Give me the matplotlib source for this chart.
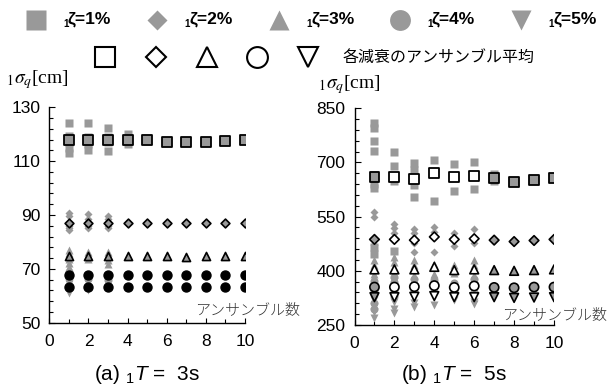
import matplotlib
matplotlib.use("Agg")
import numpy as np
import matplotlib.pyplot as plt

plt.rcParams['font.family'] = ['Liberation Sans', 'Noto Sans CJK JP']
plt.rcParams['mathtext.fontset'] = 'custom'
plt.rcParams['mathtext.rm'] = 'Liberation Sans'
plt.rcParams['mathtext.it'] = 'Liberation Sans:italic'

W, H = 608, 389
GREY = '#999999'

# ensemble count on the x axis
ens = [1, 2, 3, 4, 5, 6, 7, 8, 9, 10]

# (a) 1T = 3s : individual values (grey) and ensemble averages
a_z1_x = [1, 1, 1, 1, 1, 2, 2, 2, 2, 3, 3, 3, 3, 4, 4, 4, 5, 5]
a_z1_y = [124.3, 119.5, 117, 115, 113, 124.2, 119, 116.5, 114, 122.3, 119, 117, 113.8, 120, 118, 116.3, 118.5, 117.3]
a_z1_avg = [118, 118, 118, 118, 118, 117.2, 117, 117.2, 117.6, 118]
a_z2_x = [1, 1, 1, 1, 1, 2, 2, 2, 2, 3, 3, 3, 3]
a_z2_y = [90.8, 89.5, 86, 85, 84.3, 90.2, 88.5, 86, 85, 89.6, 88.5, 86, 85]
a_z2_avg = [87.2, 87.2, 87.2, 87.2, 87.2, 87.0, 87.0, 87.0, 87.1, 87.2]
a_z3_x = [1, 1, 1, 1, 1, 2, 2, 3, 3, 3]
a_z3_y = [77, 75.8, 73.5, 72, 70.8, 76.2, 73.5, 76.3, 73.3, 71.8]
a_z3_avg = [74.8, 74.8, 74.8, 74.8, 74.8, 74.6, 74.5, 74.6, 74.8, 74.8]
a_z4_x = [1, 1, 2, 3]
a_z4_y = [68.8, 66.5, 66.3, 66]
a_z4_avg = [67.7, 67.7, 67.7, 67.7, 67.7, 67.7, 67.7, 67.7, 67.7, 67.7]
a_z5_x = [1, 1, 2]
a_z5_y = [64.2, 61, 62.3]
a_z5_avg = [63.3, 63.3, 63.3, 63.3, 63.3, 63.3, 63.3, 63.3, 63.3, 63.3]

# (b) 1T = 5s
b_z1_x = [1, 1, 1, 1, 1, 1, 1, 1, 1, 2, 2, 2, 2, 3, 3, 3, 3, 4, 4, 5, 5, 6, 6, 7, 7]
b_z1_y = [808, 795, 760, 732, 665, 640, 628, 466, 447, 730, 690, 650, 456,
          698, 680, 638, 605, 707, 594, 697, 622, 702, 626, 668, 650]
b_z1_avg = [659, 659, 654, 670, 659, 663, 658, 645, 651, 658]
b_z2_x = [1, 1, 1, 2, 2, 2, 3, 3, 3, 3, 4, 4, 4, 5, 5, 6, 6]
b_z2_y = [563, 548, 472, 531, 518, 504, 515, 504, 478, 453, 522, 508, 452, 506, 469, 515, 476]
b_z2_avg = [487, 487, 485, 494, 487, 489, 485, 481, 484, 487]
b_z3_x = [1, 1, 1, 1, 2, 2, 2, 3, 3, 3, 4, 4, 5, 5, 6, 6, 6]
b_z3_y = [430, 415, 390, 378, 439, 425, 390, 430, 415, 388, 420, 390, 415, 393, 430, 416, 388]
b_z3_avg = [404, 404, 404, 411, 402, 404, 402, 400, 402, 404]
b_z4_x = [1, 1, 1, 1, 1, 1, 2, 2, 2, 2, 3, 3, 3, 4, 4, 5, 5, 6, 6, 6]
b_z4_y = [372, 362, 345, 335, 310, 295, 384, 370, 340, 330, 378, 362, 340, 374, 340, 365, 345, 376, 365, 340]
b_z4_avg = [355, 355, 356, 359, 354, 358, 354, 353, 355, 355]
b_z5_x = [1, 1, 1, 1, 2, 2, 2, 3, 3, 4, 5, 6, 6]
b_z5_y = [320, 300, 285, 270, 315, 295, 283, 312, 300, 305, 318, 314, 308]
b_z5_avg = [327, 327, 328, 330, 327, 327, 327, 325, 326, 327]

a_yticks = [50, 70, 90, 110, 130]
b_yticks = [250, 400, 550, 700, 850]

zeta_labels = ['ζ=1%', 'ζ=2%', 'ζ=3%', 'ζ=4%', 'ζ=5%']
markers = ['s', 'D', '^', 'o', 'v']


def fx(x):
    return x / W


def fy(y):
    return 1 - y / H


def setup(ax, yticks, minor_step):
    ax.set_xlim(0, 10)
    ax.set_ylim(yticks[0], yticks[-1])
    ax.spines[['top', 'right']].set_visible(False)
    for s in ['left', 'bottom']:
        ax.spines[s].set_linewidth(1.0)
    ax.set_xticks([0, 2, 4, 6, 8, 10])
    ax.set_xticks(ens, minor=True)
    ax.set_yticks(yticks)
    ax.set_yticks(np.arange(yticks[0], yticks[-1] + 1, minor_step), minor=True)
    ax.tick_params(which='both', direction='in', labelsize=12.5, width=0.8)
    ax.tick_params(axis='x', which='major', length=3.5, pad=8)
    ax.tick_params(axis='y', which='major', length=4.5, pad=6.5)
    ax.tick_params(which='minor', length=3)
    ax.patch.set_visible(False)


fig = plt.figure(figsize=(6.08, 3.89), dpi=100)

ax1 = fig.add_axes([fx(49.3), fy(322.7), (245 - 49.3) / W, (322.7 - 107.3) / H])
ax2 = fig.add_axes([fx(354.5), fy(325), (554 - 354.5) / W, (325 - 108.3) / H])

# --- (a) ---
samp_ms = [5.8, 4.2, 5.8, 5.8, 5.8]
a_samples = [(a_z1_x, a_z1_y), (a_z2_x, a_z2_y), (a_z3_x, a_z3_y), (a_z4_x, a_z4_y), (a_z5_x, a_z5_y)]
for (sx, sy), m, ms in zip(a_samples, markers, samp_ms):
    ax1.plot(sx, sy, ls='none', marker=m, ms=ms, mfc=GREY, mec='none', zorder=2, clip_on=False)

ax1.scatter(ens, a_z1_avg, marker='s', s=44, c=GREY, edgecolors='k', linewidths=1.3, zorder=3)
ax1.scatter(ens, a_z2_avg, marker='D', s=20, c=GREY, edgecolors='k', linewidths=1.2, zorder=3)
ax1.scatter(ens, a_z3_avg, marker='^', s=34, c=GREY, edgecolors='k', linewidths=1.2, zorder=3)
ax1.scatter(ens, a_z4_avg, marker='o', s=42, c='k', edgecolors='k', linewidths=1.0, zorder=3)
ax1.scatter(ens, a_z5_avg, marker='o', s=42, c='k', edgecolors='k', linewidths=1.0, zorder=3)
setup(ax1, a_yticks, 4)

# --- (b) ---
b_samples = [(b_z1_x, b_z1_y), (b_z2_x, b_z2_y), (b_z3_x, b_z3_y), (b_z4_x, b_z4_y), (b_z5_x, b_z5_y)]
b_ms = [6.0, 4.2, 5.8, 5.8, 5.8]
for (sx, sy), m, ms in zip(b_samples, markers, b_ms):
    ax2.plot(sx, sy, ls='none', marker=m, ms=ms, mfc=GREY, mec='none', zorder=2, clip_on=False)

face_std = [GREY, 'white', 'white', 'white', 'white', 'white', GREY, GREY, GREY, GREY]
face_tri = ['white', 'white', 'white', 'white', 'white', 'white', GREY, GREY, GREY, GREY]
ax2.scatter(ens, b_z1_avg, marker='s', s=50, c=face_std, edgecolors='k', linewidths=1.3, zorder=3)
ax2.scatter(ens, b_z2_avg, marker='D', s=24, c=face_std, edgecolors='k', linewidths=1.2, zorder=3)
ax2.scatter(ens, b_z3_avg, marker='^', s=40, c=face_tri, edgecolors='k', linewidths=1.2, zorder=3)
ax2.scatter(ens, b_z4_avg, marker='o', s=44, c=face_std, edgecolors='k', linewidths=1.2, zorder=3)
ax2.scatter(ens, b_z5_avg, marker='v', s=40, c=face_std, edgecolors='k', linewidths=1.2, zorder=3)
setup(ax2, b_yticks, 30)

# axis labels
for xx, yy in [(6, 80), (318, 85)]:
    fig.text(fx(xx), fy(yy), r'$_{1}\sigma_q$[cm]', fontsize=14, family='Liberation Serif',
             math_fontfamily='stix', ha='left', va='center')
for xx, yy in [(300, 310), (607, 315)]:
    fig.text(fx(xx), fy(yy), 'アンサンブル数', fontsize=10.8, family='Noto Sans CJK JP',
             weight='light', color='#333333', ha='right', va='center')

# panel captions
fig.text(fx(147), fy(375), r'(a) $_{\rm 1}T$ =  3s', fontsize=15, ha='center', va='center')
fig.text(fx(454), fy(375), r'(b) $_{\rm 1}T$ =  5s', fontsize=15, ha='center', va='center')

# legend drawn on an overlay in pixel coordinates
lg = fig.add_axes([0, 0, 1, 1])
lg.set_xlim(0, W)
lg.set_ylim(H, 0)
lg.axis('off')
row1_x = [36, 157, 279, 400, 521]
row1_ms = [14.4, 10.2, 14.4, 15, 14.4]
for xx, m, ms, lab in zip(row1_x, markers, row1_ms, zeta_labels):
    lg.plot([xx], [20], marker=m, ms=ms, mfc=GREY, mec='none', ls='none')
    fig.text(fx(xx + 27), fy(24), '1', fontsize=7, weight='bold', ha='left', va='center')
    fig.text(fx(xx + 32), fy(19), lab, fontsize=12.5, weight='bold', ha='left', va='center')

row2_x = [105, 156, 207, 257, 308]
row2_ms = [15, 10.5, 15, 15, 15]
for xx, m, ms in zip(row2_x, markers, row2_ms):
    lg.plot([xx], [57], marker=m, ms=ms, mfc='white', mec='k', mew=1.5, ls='none')
fig.text(fx(343), fy(57), '各減衰のアンサンブル平均', fontsize=11.5, family='Noto Sans CJK JP',
         ha='left', va='center')

fig.savefig('out.png', dpi=100)
